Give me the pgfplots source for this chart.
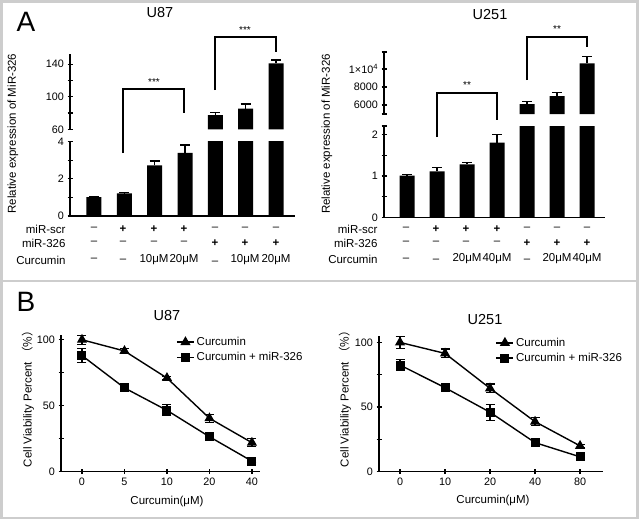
\documentclass[border=0pt]{standalone}
\usepackage{fontspec}
\setmainfont{Liberation Sans}
\newfontfamily\cjk{Noto Sans CJK SC}
\usepackage{pgfplots}
\pgfplotsset{compat=1.18}
\definecolor{frame}{RGB}{205,205,205}
\pgfplotsset{
  gp/.style={scale only axis, anchor=south west,
    axis line style={-, line width=1.4pt, black},
    tick style={line width=1.2pt, black}, major tick length=5pt,
    tick align=outside, scaled y ticks=false, scaled x ticks=false,
    ticklabel style={font=\fontsize{10.8}{12}\selectfont},
    /pgf/number format/assume math mode=true},
  barA/.style={ybar, bar width=15pt, bar shift=0pt, fill=black, draw=none},
  ebA/.style={error bars/.cd, y dir=plus, y explicit,
    error bar style={line width=1.2pt, black},
    error mark options={rotate=90, mark size=5pt, line width=1.2pt, black}},
  ebB/.style={error bars/.cd, y dir=both, y explicit,
    error bar style={line width=1.2pt, black},
    error mark options={rotate=90, mark size=4.5pt, line width=1.2pt, black}},
}
\newcommand{\lab}{\fontsize{11.5}{13.5}\selectfont}
\begin{document}
\begin{tikzpicture}
\useasboundingbox (0,0) rectangle (639pt,-520pt);
\fill[white] (0,0) rectangle (639pt,-520pt);
\draw[frame, line width=2.5pt] (1.5pt,-1.5pt) rectangle (637.5pt,-518pt);
\draw[frame, line width=2.5pt] (0pt,-281pt) -- (639pt,-281pt);

% ---------------- Panel A left (U87)
\node[font=\fontsize{28}{30}\selectfont] at (26pt,-22pt) {A};
\node[font=\fontsize{14.5}{16}\selectfont] at (160pt,-13pt) {U87};
\begin{axis}[gp, at={(70pt,-216pt)}, width=225pt, height=74.3pt,
  xmin=0.209, xmax=7.626, ymin=0, ymax=4,
  axis x line=bottom, axis y line=left, axis line style={-},
  xtick=\empty, ytick={0,1,2,3,4}, yticklabels={0,,2,,4}]
\addplot[barA, ebA] coordinates {(1,1.02) +- (0,0.03) (2,1.22) +- (0,0.03) (3,2.72) +- (0,0.24) (4,3.4) +- (0,0.42)};
\addplot[barA] coordinates {(5,10) (6,10) (7,10)};
\end{axis}
\begin{axis}[gp, at={(70pt,-129.3pt)}, width=225pt, height=75.3pt,
  xmin=0.209, xmax=7.626, ymin=60, ymax=152.4,
  axis x line=none, axis y line=left, axis line style={-},
  xtick=\empty, ytick={60,80,100,120,140}, yticklabels={60,,100,,140}]
\addplot[barA, ebA] coordinates {(5,77.5) +- (0,3) (6,85.5) +- (0,5.5) (7,141) +- (0,4)};
\end{axis}
\node[rotate=90, font=\lab] at (13pt,-133.5pt) {Relative expression of MiR-326};
\draw[line width=1.2pt] (123pt,-153pt) -- (123pt,-89pt) -- (184pt,-89pt) -- (184pt,-113pt);
\node[font=\fontsize{10}{12}\selectfont] at (154pt,-82pt) {***};
\draw[line width=1.2pt] (215pt,-90pt) -- (215pt,-37pt) -- (276pt,-37pt) -- (276pt,-52pt);
\node[font=\fontsize{10}{12}\selectfont] at (245pt,-30pt) {***};
% table
\begin{scope}[every node/.style={font=\lab}]
\node[anchor=east] at (69pt,-229.3pt) {miR-scr};
\node[anchor=east] at (69pt,-243.3pt) {miR-326};
\node[anchor=east] at (69pt,-260.5pt) {Curcumin};
\node at (94pt,-229pt) {–}; \node at (123pt,-229pt) {\textbf{+}}; \node at (154pt,-229pt) {\textbf{+}}; \node at (184pt,-229pt) {\textbf{+}};
\node at (215pt,-229pt) {–}; \node at (245pt,-229pt) {–}; \node at (276pt,-229pt) {–};
\node at (94pt,-243pt) {–}; \node at (123pt,-243pt) {–}; \node at (154pt,-243pt) {–}; \node at (184pt,-243pt) {–};
\node at (215pt,-243pt) {\textbf{+}}; \node at (245pt,-243pt) {\textbf{+}}; \node at (276pt,-243pt) {\textbf{+}};
\node at (94pt,-260pt) {–}; \node at (123pt,-261pt) {–}; \node at (154pt,-260pt) {10μM}; \node at (184pt,-260pt) {20μM};
\node at (215pt,-263pt) {–}; \node at (245pt,-260pt) {10μM}; \node at (276pt,-260pt) {20μM};
\end{scope}

% ---------------- Panel A right (U251)
\node[font=\fontsize{14.5}{16}\selectfont] at (490pt,-15pt) {U251};
\begin{axis}[gp, at={(384pt,-217.5pt)}, width=221pt, height=91.5pt,
  xmin=0.233, xmax=7.6, ymin=0, ymax=2.2,
  axis x line=bottom, axis y line=left, axis line style={-},
  xtick=\empty, ytick={0,0.5,1,1.5,2,2.2}, yticklabels={0,,1,,2,}]
\addplot[barA, ebA] coordinates {(1,1.01) +- (0,0.02) (2,1.11) +- (0,0.09) (3,1.275) +- (0,0.055) (4,1.8) +- (0,0.19)};
\addplot[barA] coordinates {(5,10) (6,10) (7,10)};
\end{axis}
\begin{axis}[gp, at={(384pt,-114pt)}, width=221pt, height=62pt,
  xmin=0.233, xmax=7.6, ymin=5000, ymax=11889,
  axis x line=none, axis y line=left, axis line style={-},
  xtick=\empty, ytick={5000,6000,8000,10000,11889}, yticklabels={,6000,8000,1×10\textsuperscript{4},}]
\addplot[barA, ebA] coordinates {(5,6100) +- (0,280) (6,7000) +- (0,420) (7,10630) +- (0,800)};
\end{axis}
\node[rotate=90, font=\lab] at (327pt,-134pt) {Relative expression of MiR-326};
\draw[line width=1.2pt] (437pt,-137pt) -- (437pt,-93pt) -- (497pt,-93pt) -- (497pt,-120pt);
\node[font=\fontsize{10}{12}\selectfont] at (467pt,-85pt) {**};
\draw[line width=1.2pt] (527pt,-80pt) -- (527pt,-37pt) -- (587pt,-37pt) -- (587pt,-47pt);
\node[font=\fontsize{10}{12}\selectfont] at (557pt,-29pt) {**};
\begin{scope}[every node/.style={font=\lab}]
\node[anchor=east] at (381pt,-229.3pt) {miR-scr};
\node[anchor=east] at (381pt,-243.3pt) {miR-326};
\node[anchor=east] at (381pt,-259.5pt) {Curcumin};
\node at (406pt,-229pt) {–}; \node at (436pt,-229pt) {\textbf{+}}; \node at (466pt,-229pt) {\textbf{+}}; \node at (497pt,-229pt) {\textbf{+}};
\node at (527pt,-229pt) {–}; \node at (557pt,-229pt) {–}; \node at (587pt,-229pt) {–};
\node at (406pt,-243pt) {–}; \node at (436pt,-243pt) {–}; \node at (466pt,-243pt) {–}; \node at (497pt,-243pt) {–};
\node at (527pt,-243pt) {\textbf{+}}; \node at (557pt,-243pt) {\textbf{+}}; \node at (587pt,-243pt) {\textbf{+}};
\node at (406pt,-260pt) {–}; \node at (436pt,-261pt) {–}; \node at (467pt,-259pt) {20μM}; \node at (497pt,-259pt) {40μM};
\node at (527pt,-261pt) {–}; \node at (557pt,-259pt) {20μM}; \node at (587pt,-259pt) {40μM};
\end{scope}

% ---------------- Panel B left (U87)
\node[font=\fontsize{28}{30}\selectfont] at (26pt,-302pt) {B};
\node[font=\fontsize{14.5}{16}\selectfont] at (167pt,-316pt) {U87};
\begin{axis}[gp, at={(61pt,-471.7pt)}, width=199pt, height=136.7pt,
  xmin=-0.494, xmax=4.19, ymin=0, ymax=103.6,
  axis x line=bottom, axis y line=left, axis line style={-},
  xtick={0,1,2,3,4}, xticklabels={0,5,10,20,40},
  ytick={0,25,50,75,100}, yticklabels={0,,50,,100},
  legend style={draw=none, fill=none, at={(0.578,1.0)}, anchor=north west,
    font=\lab, row sep=1.5pt, inner sep=0pt},
  legend cell align=left]
\addplot[black, line width=1.4pt, mark=triangle*, mark size=4.5pt, ebB] coordinates {(0,100) +- (0,3.4) (1,91.5) +- (0,2.1) (2,71) +- (0,1) (3,40.5) +- (0,3) (4,22) +- (0,3)};
\addlegendentry{Curcumin}
\addplot[black, line width=1.4pt, mark=square*, mark size=3.8pt, ebB] coordinates {(0,88) +- (0,5.3) (1,63.5) +- (0,1.5) (2,46.5) +- (0,4.2) (3,26.5) +- (0,1.5) (4,8) +- (0,1)};
\addlegendentry{Curcumin + miR-326}
\end{axis}
\node[rotate=90, font=\lab] at (28pt,-396pt) {Cell Viability Percent {\cjk （\%）}};
\node[font=\lab] at (167pt,-502pt) {Curcumin(μM)};

% ---------------- Panel B right (U251)
\node[font=\fontsize{14.5}{16}\selectfont] at (485pt,-320pt) {U251};
\begin{axis}[gp, at={(379pt,-471.7pt)}, width=224pt, height=136pt,
  xmin=-0.467, xmax=4.51, ymin=0, ymax=105.2,
  axis x line=bottom, axis y line=left, axis line style={-},
  xtick={0,1,2,3,4}, xticklabels={0,10,20,40,80},
  ytick={0,25,50,75,100}, yticklabels={0,,50,,100},
  legend style={draw=none, fill=none, at={(0.52,1.0)}, anchor=north west,
    font=\lab, row sep=1.5pt, inner sep=0pt},
  legend cell align=left]
\addplot[black, line width=1.4pt, mark=triangle*, mark size=4.5pt, ebB] coordinates {(0,100) +- (0,4.5) (1,91.5) +- (0,3.4) (2,64.5) +- (0,3.3) (3,38.7) +- (0,3) (4,20) +- (0,1)};
\addlegendentry{Curcumin}
\addplot[black, line width=1.4pt, mark=square*, mark size=3.8pt, ebB] coordinates {(0,82.5) +- (0,4.5) (1,65) +- (0,1.5) (2,46) +- (0,6.2) (3,22.5) +- (0,1.5) (4,11.5) +- (0,1)};
\addlegendentry{Curcumin + miR-326}
\end{axis}
\node[rotate=90, font=\lab] at (345pt,-396pt) {Cell Viability Percent {\cjk （\%）}};
\node[font=\lab] at (493pt,-501pt) {Curcumin(μM)};
\end{tikzpicture}
\end{document}
